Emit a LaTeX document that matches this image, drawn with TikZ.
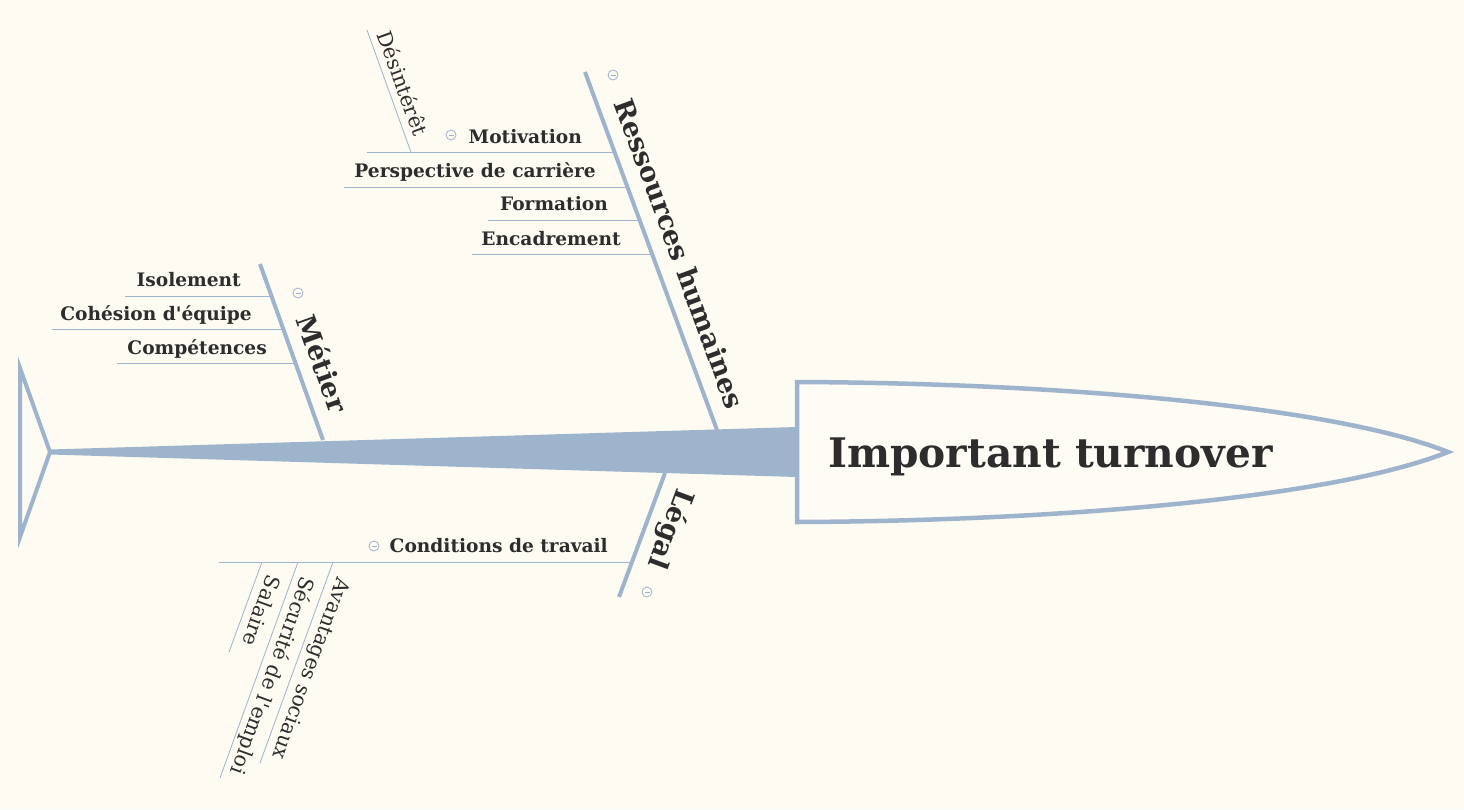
\documentclass[tikz,border=0pt]{standalone}
\usepackage{fontspec}
\setmainfont{DejaVu Serif}[Ligatures=TeXOff]
\definecolor{bg}{RGB}{254,251,243}
\definecolor{bone}{RGB}{158,179,204}
\definecolor{ink}{RGB}{45,45,45}
\definecolor{headfill}{RGB}{255,252,246}
\begin{document}
\begin{tikzpicture}[x=1pt,y=-1pt,
  bonel/.style={draw=bone,line width=4pt},
  twig/.style={draw=bone,line width=1pt},
  lvlone/.style={font=\fontsize{18.6}{20}\selectfont\bfseries,text=ink,inner sep=0pt,anchor=base east},
  lvlzero/.style={font=\fontsize{27}{30}\selectfont\bfseries,text=ink,inner sep=0pt},
  lvltwo/.style={font=\fontsize{20.5}{22}\selectfont,text=ink,inner sep=0pt},
  coll/.style={circle,draw=bone,line width=0.8pt,minimum size=10pt,inner sep=0pt,
    path picture={\draw[bone,line width=0.8pt] ([xshift=-2.5pt]path picture bounding box.center) -- ([xshift=2.5pt]path picture bounding box.center);}}
]
\fill[bg] (0,0) rectangle (1464,809);
\useasboundingbox (0,0) rectangle (1464,809);

% tail
\coordinate (tailtop) at (20,368);
\coordinate (tailbot) at (20,537);
\coordinate (tail) at (50,452);
\draw[bone,line width=4pt,line join=miter] (tailtop) -- (tail) -- (tailbot) -- cycle;

% spine
\fill[bone] (50,449.5) -- (797,427) -- (797,477) -- (50,454.5) -- cycle;

% head
\draw[bone,line width=4.5pt,fill=headfill,line join=miter,miter limit=20]
  (797,382) .. controls (1050,383) and (1330,405) .. (1448,452)
  .. controls (1330,499) and (1050,521) .. (797,522) -- cycle;
\node[font=\fontsize{40.7}{46}\selectfont\bfseries,text=ink,inner sep=0pt,anchor=base west] (head) at (828,467) {Important turnover};

% bones
\coordinate (rhA) at (585,72);
\coordinate (rhB) at (717,430);
\coordinate (meA) at (260,264);
\coordinate (meB) at (323,440);
\coordinate (leA) at (665,473);
\coordinate (leB) at (619,597);
\draw[bonel] (rhA) -- (rhB);
\draw[bonel] (meA) -- (meB);
\draw[bonel] (leA) -- (leB);

\node[lvlzero,rotate=-69.8] (rh) at (680,253.3) {Ressources humaines};
\node[lvlzero,rotate=-70.3] (me) at (323,363.3) {Métier};
\node[lvlzero,rotate=-110.3] (le) at (670,528.7) {Légal};

\node[coll] (crh) at (613,75) {};
\node[coll] (cme) at (298,293) {};
\node[coll] (cle) at (647,592) {};

% Ressources humaines branches
\coordinate (motL) at (367,152.3);   \coordinate (motR) at (614.5,152.3);
\coordinate (perL) at (344,187.3);   \coordinate (perR) at (627.5,187.3);
\coordinate (forL) at (488,220.7);   \coordinate (forR) at (639.8,220.7);
\coordinate (encL) at (472,254.3);   \coordinate (encR) at (652.2,254.3);
\draw[twig] (motL) -- (motR);
\draw[twig] (perL) -- (perR);
\draw[twig] (forL) -- (forR);
\draw[twig] (encL) -- (encR);
\node[lvlone] (mot) at (582,143.3) {Motivation};
\node[lvlone] (per) at (596,177.3) {Perspective de carrière};
\node[lvlone] (for) at (608,210.7) {Formation};
\node[lvlone] (enc) at (621,245) {Encadrement};
\node[coll] (cmot) at (451,135) {};

\coordinate (desA) at (367,30);
\coordinate (desB) at (411,152.3);
\draw[twig,line width=0.8pt] (desA) -- (desB);
\node[lvltwo,rotate=-70.2] (des) at (403,83) {Désintérêt};

% Métier branches
\coordinate (isoL) at (125,296);   \coordinate (isoR) at (271.5,296);
\coordinate (cohL) at (52,329);    \coordinate (cohR) at (283.3,329);
\coordinate (comL) at (117,363);   \coordinate (comR) at (295.4,363);
\draw[twig] (isoL) -- (isoR);
\draw[twig] (cohL) -- (cohR);
\draw[twig] (comL) -- (comR);
\node[lvlone] (iso) at (241,286.7) {Isolement};
\node[lvlone] (coh) at (252,320) {Cohésion d'équipe};
\node[lvlone] (com) at (267,354) {Compétences};

% Légal branches
\coordinate (conL) at (219,562);   \coordinate (conR) at (632,562);
\draw[twig] (conL) -- (conR);
\node[lvlone] (con) at (608,552.7) {Conditions de travail};
\node[coll] (ccon) at (374,546) {};

\coordinate (avaA) at (333,562);  \coordinate (avaB) at (260,763);
\coordinate (secA) at (298,562);  \coordinate (secB) at (220,778);
\coordinate (salA) at (262,562);  \coordinate (salB) at (229,652);
\draw[twig,line width=0.8pt] (avaA) -- (avaB);
\draw[twig,line width=0.8pt] (secA) -- (secB);
\draw[twig,line width=0.8pt] (salA) -- (salB);
\node[lvltwo,rotate=-110] (ava) at (310,668.4) {Avantages sociaux};
\node[lvltwo,rotate=-110] (sec) at (272,675.4) {Sécurité de l'emploi};
\node[lvltwo,rotate=-110] (sal) at (261.8,611) {Salaire};
\end{tikzpicture}
\end{document}
